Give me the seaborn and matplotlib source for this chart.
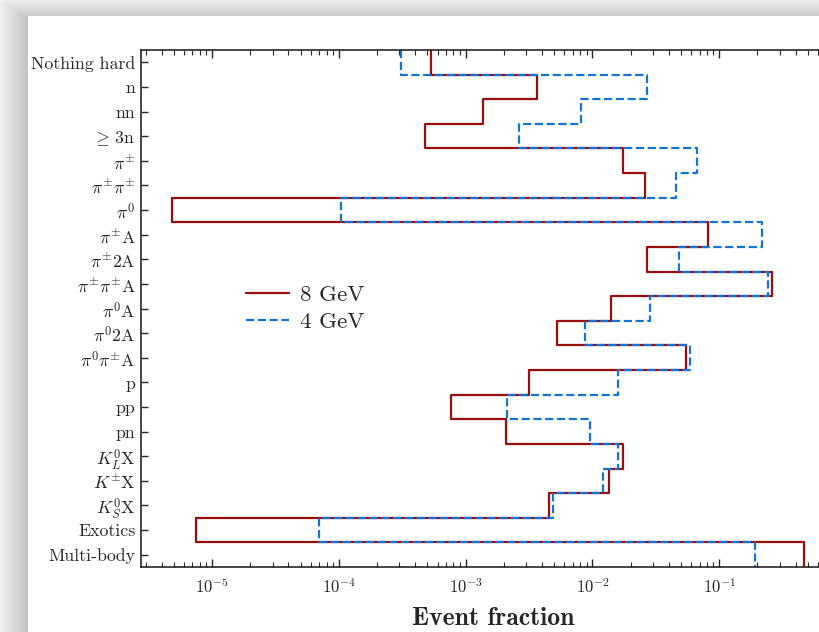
import numpy as np
import matplotlib
matplotlib.use("Agg")
import matplotlib.pyplot as plt
import seaborn as sns

categories = [
    "Nothing hard", "n", "nn", r"$\geq\,$3n", r"$\pi^{\pm}$", r"$\pi^{\pm}\pi^{\pm}$",
    r"$\pi^{0}$", r"$\pi^{\pm}$A", r"$\pi^{\pm}$2A", r"$\pi^{\pm}\pi^{\pm}$A",
    r"$\pi^{0}$A", r"$\pi^{0}$2A", r"$\pi^{0}\pi^{\pm}$A", "p", "pp", "pn",
    r"$K_L^0$X", r"$K^{\pm}$X", r"$K_S^0$X", "Exotics", "Multi-body",
]
frac_8gev = [5.35e-4, 3.67e-3, 1.38e-3, 4.8e-4, 0.0175, 0.0262, 4.83e-6, 0.082,
             0.0268, 0.263, 0.0141, 5.28e-3, 0.055, 3.18e-3, 7.69e-4, 2.09e-3,
             0.0175, 0.0134, 4.57e-3, 7.48e-6, 0.47]
frac_4gev = [3.1e-4, 0.0271, 8.17e-3, 2.65e-3, 0.0673, 0.046, 1.04e-4, 0.219,
             0.0485, 0.244, 0.0286, 8.79e-3, 0.0593, 0.016, 2.13e-3, 9.62e-3,
             0.016, 0.0122, 4.91e-3, 7.0e-5, 0.19]
series_labels = ["8 GeV", "4 GeV"]
xtick_values = [1e-5, 1e-4, 1e-3, 1e-2, 1e-1]

sns.set_style("ticks")
plt.rcParams.update({
    "font.family": "serif",
    "font.serif": ["cmr10", "DejaVu Serif"],
    "mathtext.fontset": "cm",
    "axes.formatter.use_mathtext": True,
})

W, H = 820, 632
fig = plt.figure(figsize=(W / 100, H / 100), dpi=100)

# screenshot-like shadow background
left = 28
top = 16
xs = np.arange(W)[None, :].astype(float)
ys = np.arange(H)[:, None].astype(float)
g = np.ones((H, W))
shade_left = np.broadcast_to(0.94 - 0.18 * (xs / left), (H, W))
shade_top = np.broadcast_to(0.93 - 0.14 * (ys / top), (H, W))
g = np.where(xs < left, shade_left, g)
g = np.where((ys < top) & (xs >= left), shade_top, g)
g = np.where((ys < top) & (xs < left), np.maximum(shade_left, shade_top), g)
bg = np.dstack([g, g, g])
bax = fig.add_axes([0, 0, 1, 1])
bax.imshow(bg, aspect="auto", extent=[0, 1, 0, 1], origin="upper")
bax.set_axis_off()
bax.set_zorder(-10)

ax = fig.add_axes([141 / W, 1 - 567 / H, (846 - 141) / W, (567 - 50) / H])
ax.set_facecolor("none")

pos = np.arange(len(categories))
red = "#990d0d"
blue = "#1673d6"
sns.histplot(y=pos, weights=frac_8gev, discrete=True, element="step", fill=False,
             color=red, linewidth=1.6, ax=ax, label=series_labels[0])
sns.histplot(y=pos, weights=frac_4gev, discrete=True, element="step", fill=False,
             color=blue, linewidth=1.6, linestyle="--", ax=ax, label=series_labels[1])

ax.set_xscale("log")
ax.set_xticks(xtick_values)
ax.set_xlim(2.75e-6, 1.0)
ax.set_ylim(len(categories) - 0.5, -0.5)
ax.set_yticks(pos)
ax.set_yticklabels(categories, fontsize=12.8)
ax.set_ylabel("")
ax.set_xlabel("Event fraction", fontsize=18.5, fontfamily="cmb10", labelpad=8)
ax.tick_params(axis="both", which="both", direction="in", top=True, right=True)
ax.tick_params(axis="x", which="major", length=6, width=1, labelsize=12, pad=7)
ax.tick_params(axis="x", which="minor", length=3.5, width=0.8)
ax.tick_params(axis="y", which="major", length=5, width=1, pad=4)
ax.tick_params(axis="y", which="minor", left=False, right=False)
for s in ax.spines.values():
    s.set_linewidth(1.2)

ax.legend(loc="center left", bbox_to_anchor=(0.12, 0.5), frameon=False,
          fontsize=16.5, handlelength=1.85, handletextpad=0.5, labelspacing=0.3)

fig.savefig("out.png", dpi=100)
